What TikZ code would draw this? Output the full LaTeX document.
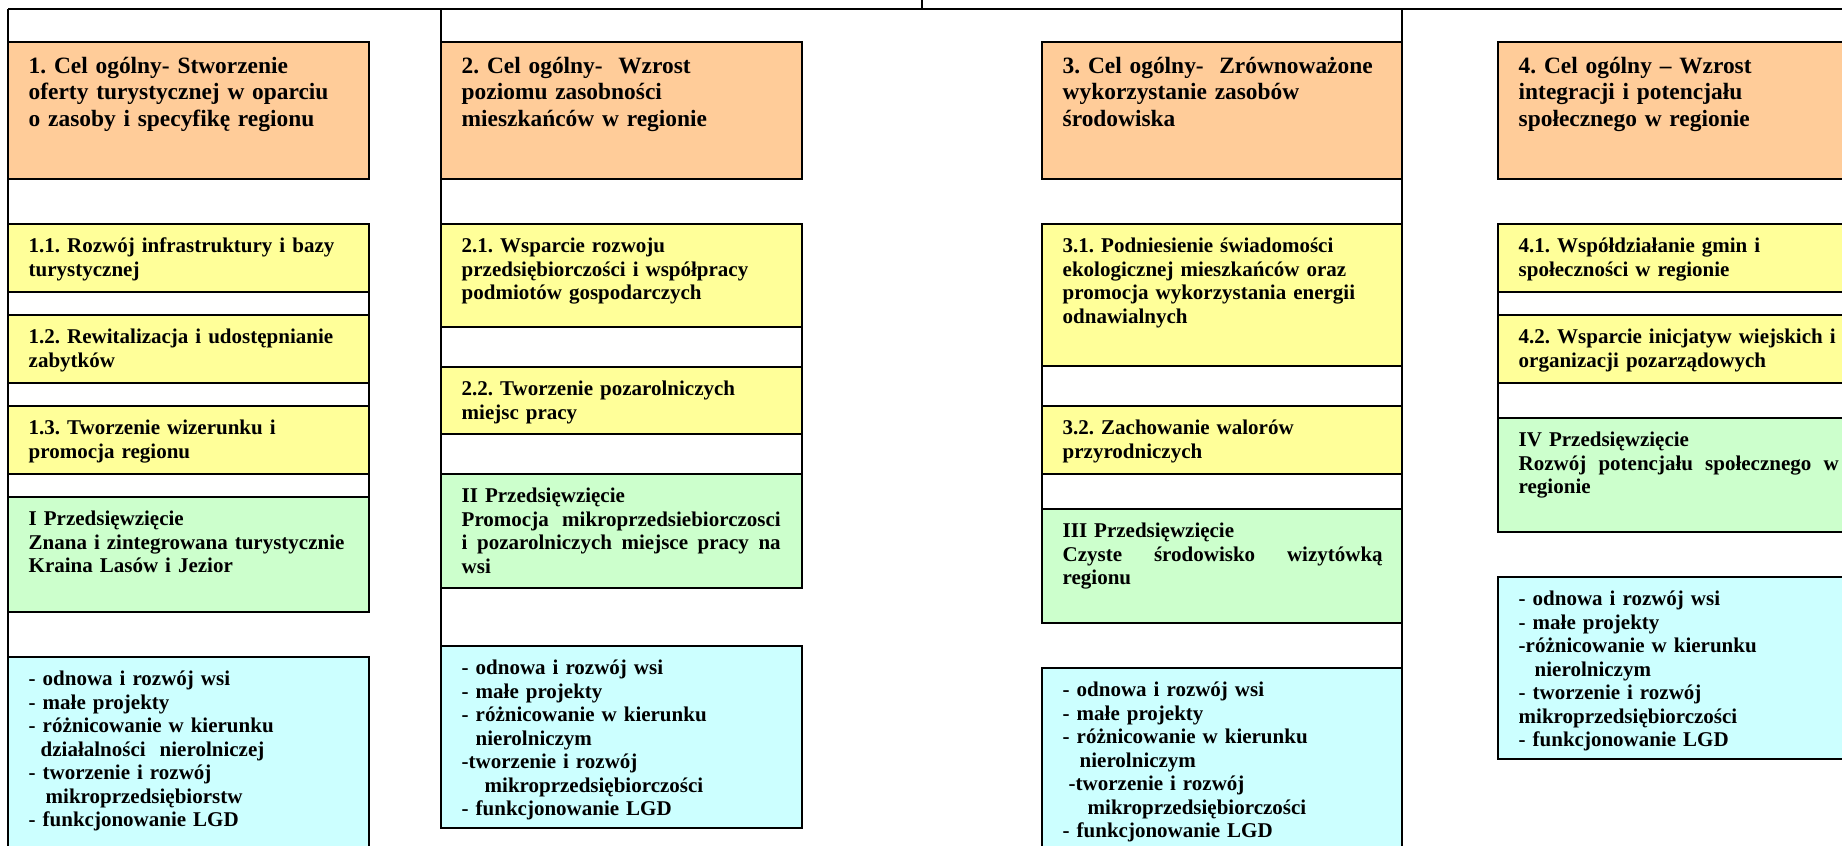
\documentclass[tikz,border=0pt]{standalone}
\usepackage{fontspec}
\setmainfont{Liberation Serif}
\frenchspacing
\definecolor{orng}{HTML}{FFCC99}
\definecolor{ylw}{HTML}{FFFF99}
\definecolor{grn}{HTML}{CCFFCC}
\definecolor{cyn}{HTML}{CCFFFF}
\tikzset{
  boxst/.style={draw=black, line width=1.8pt, inner sep=0pt, outer sep=0pt},
  link/.style={draw=black, line width=1.6pt},
  smtxt/.style={font=\bfseries\fontsize{21pt}{23.5pt}\selectfont, text width=345pt, align=left, inner sep=0pt, anchor=north west},
  bigtxt/.style={font=\bfseries\fontsize{23.4pt}{26.7pt}\selectfont, text width=345pt, align=left, inner sep=0pt, anchor=north west, yshift=-2.3pt},
}
\newcommand\cbox[8]{%
  \node[boxst, fill=#2, minimum width=#5pt, minimum height=#6pt, anchor=north west] (#1) at (#3,#4) {};
  \node[#7] (#1-t) at ([xshift=20.5pt, yshift=-4.7pt]#1.north west) {\rule{0pt}{24pt}#8};
}
\newcommand\jl[2]{\leavevmode\hbox to #1pt{\spaceskip=0pt\xspaceskip=0pt #2}}
\begin{document}
\begin{tikzpicture}[x=1pt, y=-1pt]
\useasboundingbox (0,0) rectangle (1842,846);
\clip (0,0) rectangle (1842,846);
% column 1
\cbox{o1}{orng}{8}{42}{361}{137}{bigtxt}{1. Cel ogólny- Stworzenie\\oferty turystycznej w oparciu\\o zasoby i specyfikę regionu}
\cbox{a1}{ylw}{8}{224}{361}{68}{smtxt}{1.1. Rozwój infrastruktury i bazy\\turystycznej}
\cbox{b1}{ylw}{8}{315}{361}{68}{smtxt}{1.2. Rewitalizacja i udostępnianie\\zabytków}
\cbox{d1}{ylw}{8}{406}{361}{68}{smtxt}{1.3. Tworzenie wizerunku i\\promocja regionu}
\cbox{g1}{grn}{8}{497}{361}{115}{smtxt}{I Przedsięwzięcie\\Znana i zintegrowana turystycznie\\Kraina Lasów i Jezior}
\cbox{k1}{cyn}{8}{657}{361}{210}{smtxt}{- odnowa i rozwój wsi\\- małe projekty\\- różnicowanie w kierunku\\\hspace*{12pt}działalności~ nierolniczej\\- tworzenie i rozwój\\\hspace*{17pt}mikroprzedsiębiorstw\\- funkcjonowanie LGD}
% column 2
\cbox{o2}{orng}{441}{42}{361}{137}{bigtxt}{2. Cel ogólny-~ Wzrost\\poziomu zasobności\\mieszkańców w regionie}
\cbox{a2}{ylw}{441}{224}{361}{103}{smtxt}{2.1. Wsparcie rozwoju\\przedsiębiorczości i współpracy\\podmiotów gospodarczych}
\cbox{b2}{ylw}{441}{367}{361}{67}{smtxt}{2.2. Tworzenie pozarolniczych\\miejsc pracy}
\cbox{g2}{grn}{441}{474}{361}{114}{smtxt}{II Przedsięwzięcie\\\jl{319}{Promocja mikroprzedsiebiorczosci}\\\jl{319}{i pozarolniczych miejsce pracy na}\\wsi}
\cbox{k2}{cyn}{441}{646}{361}{182}{smtxt}{- odnowa i rozwój wsi\\- małe projekty\\- różnicowanie w kierunku\\\hspace*{14pt}nierolniczym\\-tworzenie i rozwój\\\hspace*{23pt}mikroprzedsiębiorczości\\- funkcjonowanie LGD}
% column 3
\cbox{o3}{orng}{1042}{42}{360}{137}{bigtxt}{3. Cel ogólny-~ Zrównoważone\\wykorzystanie zasobów\\środowiska}
\cbox{a3}{ylw}{1042}{224}{360}{142}{smtxt}{3.1. Podniesienie świadomości\\ekologicznej mieszkańców oraz\\promocja wykorzystania energii\\odnawialnych}
\cbox{b3}{ylw}{1042}{406}{360}{68}{smtxt}{3.2. Zachowanie walorów\\przyrodniczych}
\cbox{g3}{grn}{1042}{509}{360}{114}{smtxt}{III Przedsięwzięcie\\\jl{320}{Czyste środowisko wizytówką}\\regionu}
\cbox{k3}{cyn}{1042}{668}{360}{200}{smtxt}{- odnowa i rozwój wsi\\- małe projekty\\- różnicowanie w kierunku\\\hspace*{17pt}nierolniczym\\\hspace*{6pt}-tworzenie i rozwój\\\hspace*{25pt}mikroprzedsiębiorczości\\- funkcjonowanie LGD}
% column 4
\cbox{o4}{orng}{1498}{42}{361}{137}{bigtxt}{4. Cel ogólny – Wzrost\\integracji i potencjału\\społecznego w regionie}
\cbox{a4}{ylw}{1498}{224}{361}{68}{smtxt}{4.1. Współdziałanie gmin i\\społeczności w regionie}
\cbox{b4}{ylw}{1498}{315}{361}{68}{smtxt}{4.2. Wsparcie inicjatyw wiejskich i\\organizacji pozarządowych}
\cbox{g4}{grn}{1498}{418}{361}{114}{smtxt}{IV Przedsięwzięcie\\\jl{320}{Rozwój potencjału społecznego w}\\regionie}
\cbox{k4}{cyn}{1498}{577}{361}{182}{smtxt}{- odnowa i rozwój wsi\\- małe projekty\\-różnicowanie w kierunku\\\hspace*{16pt}nierolniczym\\- tworzenie i rozwój\\mikroprzedsiębiorczości\\- funkcjonowanie LGD}
% connectors
\coordinate (tl) at (8,9);
\coordinate (tr) at (1860,9);
\coordinate (tk) at (922,0);
\draw[link] (tl) -- (tr);
\draw[link] (tk) -- (tk |- tl);
\draw[link] (tl) -- (k1.north west);
\draw[link] (o2.north west |- tl) -- (k2.north west);
\draw[link] (o3.north east |- tl) -- (k3.north east);
\draw[link] (a1.south east) -- (g1.north east);
\draw[link] (a2.south east) -- (g2.north east);
\draw[link] (a3.south west) -- (g3.north west);
\draw[link] (a4.south west) -- (g4.north west);
\end{tikzpicture}
\end{document}
